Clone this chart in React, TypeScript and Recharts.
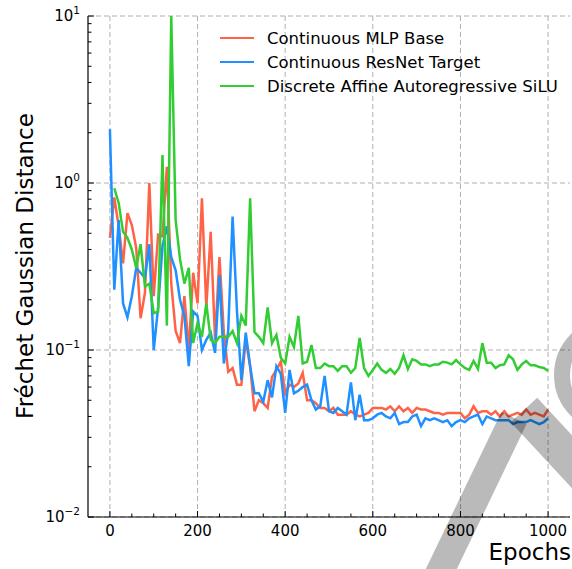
import React from 'react';
import { LineChart, Line, XAxis, YAxis, CartesianGrid } from 'recharts';

// epochs 0..1000, one evaluation every 10 epochs
const epochs = Array.from({ length: 101 }, (_, i) => i * 10);

const mlpBase = [
  0.47, 0.82, 0.55, 0.33, 0.66, 0.56, 0.41, 0.155, 0.22, 1.0,
  0.21, 0.49, 0.48, 1.25, 0.25, 0.13, 0.11, 0.21, 0.1, 0.29,
  0.19, 0.81, 0.18, 0.51, 0.115, 0.36, 0.127, 0.074, 0.078, 0.062,
  0.062, 0.115, 0.08, 0.043, 0.05, 0.048, 0.045, 0.069, 0.076, 0.085,
  0.055, 0.062, 0.06, 0.063, 0.073, 0.05, 0.05, 0.048, 0.045, 0.045,
  0.043, 0.045, 0.041, 0.041, 0.041, 0.043, 0.041, 0.04, 0.041, 0.042,
  0.045, 0.045, 0.045, 0.044, 0.046, 0.043, 0.046, 0.043, 0.045, 0.042,
  0.045, 0.044, 0.044, 0.043, 0.042, 0.042, 0.041, 0.042, 0.042, 0.042,
  0.042, 0.039, 0.041, 0.046, 0.042, 0.043, 0.043, 0.041, 0.043, 0.04,
  0.043, 0.04, 0.041, 0.042, 0.041, 0.044, 0.041, 0.042, 0.041, 0.04,
  0.044,
];

const resnetTarget = [
  2.1, 0.23, 0.6, 0.19, 0.157, 0.21, 0.31, 0.29, 0.27, 0.43,
  0.1, 0.18, 0.42, 0.55, 0.36, 0.3, 0.2, 0.16, 0.08, 0.17,
  0.16, 0.1, 0.115, 0.127, 0.096, 0.28, 0.083, 0.13, 0.63, 0.17,
  0.066, 0.127, 0.08, 0.055, 0.055, 0.049, 0.066, 0.052, 0.08, 0.072,
  0.042, 0.076, 0.055, 0.057, 0.06, 0.062, 0.05, 0.044, 0.046, 0.07,
  0.043, 0.042, 0.045, 0.043, 0.041, 0.064, 0.038, 0.054, 0.038, 0.038,
  0.039, 0.041, 0.042, 0.04, 0.039, 0.042, 0.036, 0.037, 0.037, 0.04,
  0.041, 0.035, 0.039, 0.038, 0.039, 0.038, 0.037, 0.038, 0.035, 0.037,
  0.038, 0.037, 0.039, 0.04, 0.041, 0.036, 0.04, 0.039, 0.038, 0.038,
  0.038, 0.038, 0.036, 0.037, 0.037, 0.037, 0.038, 0.037, 0.036, 0.037,
  0.039,
];

const affineSiLU = [
  null, 0.93, 0.76, 0.51, 0.47, 0.4, 0.31, 0.43, 0.24, 0.25,
  0.166, 0.17, 1.47, 0.14, 10, 0.6, 0.35, 0.25, 0.31, 0.11,
  0.145, 0.12, 0.19, 0.115, 0.11, 0.12, 0.12, 0.12, 0.13, 0.11,
  0.16, 0.14, 0.81, 0.128, 0.12, 0.11, 0.18, 0.11, 0.123, 0.09,
  0.083, 0.12, 0.104, 0.16, 0.083, 0.085, 0.107, 0.078, 0.078, 0.083,
  0.08, 0.08, 0.075, 0.08, 0.08, 0.073, 0.078, 0.118, 0.078, 0.07,
  0.076, 0.083, 0.076, 0.073, 0.077, 0.072, 0.078, 0.093, 0.077, 0.088,
  0.086, 0.082, 0.082, 0.08, 0.082, 0.082, 0.085, 0.084, 0.082, 0.087,
  0.082, 0.078, 0.076, 0.086, 0.077, 0.11, 0.084, 0.084, 0.078, 0.081,
  0.082, 0.093, 0.088, 0.076, 0.082, 0.086, 0.081, 0.081, 0.079, 0.078,
  0.075,
];

const seriesNames = [
  'Continuous MLP Base',
  'Continuous ResNet Target',
  'Discrete Affine Autoregressive SiLU',
];
const seriesColors = ['#ff6347', '#1e90ff', '#32cd32'];

const xMajor = [0, 200, 400, 600, 800, 1000];
const xTicks = [0, 50, 100, 150, 200, 250, 300, 350, 400, 450, 500, 550, 600, 650, 700, 750, 800, 850, 900, 950, 1000];
const yMajor = [0.01, 0.1, 1, 10];
const yTicks = [
  0.01, 0.02, 0.03, 0.04, 0.05, 0.06, 0.07, 0.08, 0.09,
  0.1, 0.2, 0.3, 0.4, 0.5, 0.6, 0.7, 0.8, 0.9,
  1, 2, 3, 4, 5, 6, 7, 8, 9, 10,
];

const data = epochs.map((epoch, i) => ({
  epoch,
  mlp: mlpBase[i],
  resnet: resnetTarget[i],
  affine: affineSiLU[i],
}));

const FONT = '"DejaVu Sans", sans-serif';

const isDecade = (v: number) => Math.abs(Math.log10(v) - Math.round(Math.log10(v))) < 1e-6;

const BottomTick = (props: any) => {
  const { x, y, payload } = props;
  const major = payload.value % 200 === 0;
  return (
    <g>
      <line x1={x} x2={x} y1={y} y2={y - (major ? 6 : 3.5)} stroke="#000" strokeWidth={1} />
      {major && (
        <text x={x} y={y + 19} textAnchor="middle" fontSize={15} fontFamily={FONT} fill="#000">
          {payload.value}
        </text>
      )}
    </g>
  );
};

const TopTick = (props: any) => {
  const { x, y, payload } = props;
  const major = payload.value % 200 === 0;
  return <line x1={x} x2={x} y1={y} y2={y + (major ? 6 : 3.5)} stroke="#000" strokeWidth={1} />;
};

const LeftTick = (props: any) => {
  const { x, y, payload } = props;
  const major = isDecade(payload.value);
  const exp = Math.round(Math.log10(payload.value));
  return (
    <g>
      <line x1={x} x2={x + (major ? 6 : 3.5)} y1={y} y2={y} stroke="#000" strokeWidth={1} />
      {major && (
        <text x={x - 8} y={y + 5} textAnchor="end" fontSize={15} fontFamily={FONT} fill="#000">
          10
          <tspan dy={-7} fontSize={10.5}>
            {exp < 0 ? '\u2212' + Math.abs(exp) : String(exp)}
          </tspan>
        </text>
      )}
    </g>
  );
};

const RightTick = (props: any) => {
  const { x, y, payload } = props;
  const major = isDecade(payload.value);
  return <line x1={x} x2={x - (major ? 6 : 3.5)} y1={y} y2={y} stroke="#000" strokeWidth={1} />;
};

// grey stamp that sits over the lower right corner of the figure
const Stamp = () => (
  <svg
    width={572}
    height={569}
    style={{ position: 'absolute', left: 0, top: 0, pointerEvents: 'none' }}
  >
    <g stroke="rgba(0,0,0,0.27)" fill="none" strokeLinecap="butt">
      <circle cx={612} cy={375} r={50} strokeWidth={16} />
      <line x1={524} y1={410} x2={600} y2={492} strokeWidth={36} />
      <line x1={514} y1={418} x2={436} y2={580} strokeWidth={28} />
    </g>
  </svg>
);

const App = () => {
  return (
    <div style={{ position: 'absolute', left: 0, top: 0, width: 572, height: 569, background: '#fff', fontFamily: FONT, overflow: 'hidden' }}>
      <LineChart width={572} height={569} data={data} margin={{ top: 16, right: 2, left: 0, bottom: 0 }}>
        <CartesianGrid
          stroke="#b0b0b0"
          strokeDasharray="5 3"
          verticalValues={xMajor}
          horizontalValues={yMajor}
        />
        <XAxis
          dataKey="epoch"
          type="number"
          domain={[-50, 1050]}
          ticks={xTicks}
          interval={0}
          height={52}
          tickSize={0}
          tickMargin={0}
          tickLine={false}
          axisLine={{ stroke: '#000', strokeWidth: 1.2 }}
          tick={<BottomTick />}
        />
        <XAxis
          xAxisId="top"
          orientation="top"
          dataKey="epoch"
          type="number"
          domain={[-50, 1050]}
          ticks={xTicks}
          interval={0}
          height={0}
          tickSize={0}
          tickMargin={0}
          tickLine={false}
          axisLine={{ stroke: '#000', strokeWidth: 1.2 }}
          tick={<TopTick />}
        />
        <YAxis
          scale="log"
          type="number"
          domain={[0.01, 10]}
          allowDataOverflow
          ticks={yTicks}
          interval={0}
          width={88}
          tickSize={0}
          tickMargin={0}
          tickLine={false}
          axisLine={{ stroke: '#000', strokeWidth: 1.2 }}
          tick={<LeftTick />}
        />
        <YAxis
          yAxisId="right"
          orientation="right"
          scale="log"
          type="number"
          domain={[0.01, 10]}
          allowDataOverflow
          ticks={yTicks}
          interval={0}
          width={0}
          tickSize={0}
          tickMargin={0}
          tickLine={false}
          axisLine={{ stroke: '#000', strokeWidth: 1.2 }}
          tick={<RightTick />}
        />
        <Line dataKey="mlp" stroke={seriesColors[0]} strokeWidth={2.5} dot={false} isAnimationActive={false} />
        <Line dataKey="resnet" stroke={seriesColors[1]} strokeWidth={2.5} dot={false} isAnimationActive={false} />
        <Line dataKey="affine" stroke={seriesColors[2]} strokeWidth={2.5} dot={false} isAnimationActive={false} />
      </LineChart>

      {/* y axis title */}
      <div
        style={{
          position: 'absolute',
          left: 25,
          top: 266,
          transform: 'translate(-50%, -50%) rotate(-90deg)',
          whiteSpace: 'nowrap',
          fontSize: 23,
          color: '#000',
        }}
      >
        Fréchet Gaussian Distance
      </div>
      {/* x axis title */}
      <div style={{ position: 'absolute', right: 1, top: 539, fontSize: 23, color: '#000' }}>Epochs</div>

      {/* legend */}
      <div style={{ position: 'absolute', left: 220, top: 26, fontSize: 16.5, color: '#000' }}>
        {seriesNames.map((name, i) => (
          <div key={name} style={{ display: 'flex', alignItems: 'center', height: 24 }}>
            <div style={{ width: 34, height: 2.5, background: seriesColors[i], marginRight: 13 }} />
            <span>{name}</span>
          </div>
        ))}
      </div>

      <Stamp />
    </div>
  );
};

export default App;
